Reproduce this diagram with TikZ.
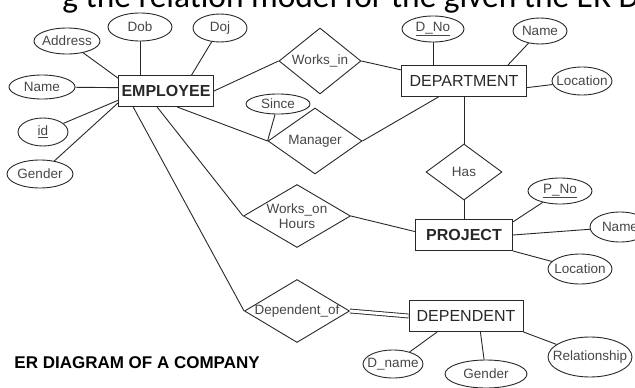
\documentclass[tikz,border=0pt]{standalone}
\usepackage{fontspec}
\setmainfont{Liberation Sans}
\newfontfamily\headfont{Carlito}
\usetikzlibrary{shapes.geometric}
\definecolor{ink1}{RGB}{40,40,40}
\definecolor{ink2}{RGB}{70,70,70}
\tikzstyle{entity} = [rectangle, draw=ink1, line width=1pt, text=ink1, font=\fontsize{16}{17}\selectfont, minimum height=31pt, inner sep=0pt]
\tikzstyle{strong} = [font=\fontsize{16}{17}\selectfont\bfseries]
\tikzstyle{relation} = [diamond, draw=ink1, text=ink2, font=\fontsize{13.5}{15}\selectfont, inner sep=0pt]
\tikzstyle{attrib} = [ellipse, draw=ink1, text=ink2, font=\fontsize{13.5}{15}\selectfont, inner sep=0pt]
% keep the text out of the shape size
\newcommand{\lbl}[1]{\makebox[0pt]{#1}}

\begin{document}
\begin{tikzpicture}[x=1pt, y=-1pt, node distance=63pt, color=ink1, line width=0.9pt]
	\useasboundingbox (0,0) rectangle (635,388);
	\clip (0,0) rectangle (635,388);
	% Heading, cut by the top edge
	\node [anchor=base west, inner sep=0pt, text=black, font=\headfont\fontsize{33.4}{35}\selectfont] (T01) at (62,8) {g the relation model for the given the ER D};

	% Entities
	\node [entity, strong, minimum width=95pt] (E01) at (166,91) {EMPLOYEE};
	\node [entity, minimum width=125pt] (E02) at (464,81) {DEPARTMENT};
	\node [relation, minimum width=76pt, minimum height=56pt, below of=E02, node distance=91pt] (R03) {\lbl{Has}};
	\node [entity, strong, minimum width=97pt, below of=R03] (E03) {PROJECT};
	\node [entity, minimum width=114pt] (E04) at (466,316) {DEPENDENT};

	% Relationships
	\node [relation, minimum width=82pt, minimum height=66pt] (R01) at (320,61) {\lbl{Works\_in}};
	\node [relation, minimum width=94pt, minimum height=66pt] (R02) at (315,141) {\lbl{Manager}};
	\node [relation, minimum width=107pt, minimum height=63pt] (R04) at (297,216) {\lbl{\shortstack{Works\_on\\Hours}}};
	\node [relation, minimum width=105pt, minimum height=63pt] (R05) at (297,311) {\lbl{Dependent\_of}};

	% Attributes
	\node [attrib, minimum width=66pt, minimum height=26pt] (A01) at (67,41) {\lbl{Address}};
	\node [attrib, minimum width=64pt, minimum height=28pt] (A02) at (140,27) {\lbl{Dob}};
	\node [attrib, minimum width=54pt, minimum height=28pt] (A03) at (220,28) {\lbl{Doj}};
	\node [attrib, minimum width=66pt, minimum height=24pt] (A04) at (42,87) {\lbl{Name}};
	\node [attrib, minimum width=50pt, minimum height=28pt] (A05) at (43,132) {\lbl{\underline{id}}};
	\node [attrib, minimum width=66pt, minimum height=28pt] (A06) at (40,174) {\lbl{Gender}};
	\node [attrib, minimum width=64pt, minimum height=20pt] (A07) at (278,104) {\lbl{Since}};
	\node [attrib, minimum width=62pt, minimum height=26pt] (A08) at (433,29) {\lbl{\underline{D\_No}}};
	\node [attrib, minimum width=54pt, minimum height=26pt] (A09) at (540,31) {\lbl{Name}};
	\node [attrib, minimum width=60pt, minimum height=28pt] (A10) at (582,81) {\lbl{Location}};
	\node [attrib, minimum width=64pt, minimum height=26pt] (A11) at (560,191) {\lbl{\underline{P\_No}}};
	\node [attrib, minimum width=60pt, minimum height=30pt] (A12) at (620,227) {\lbl{Name}};
	\node [attrib, minimum width=64pt, minimum height=30pt] (A13) at (580,269) {\lbl{Location}};
	\node [attrib, minimum width=60pt, minimum height=28pt] (A14) at (393,364) {\lbl{D\_name}};
	\node [attrib, minimum width=82pt, minimum height=28pt] (A15) at (486,374) {\lbl{Gender}};
	\node [attrib, minimum width=84pt, minimum height=40pt] (A16) at (590,357) {\lbl{Relationship}};

	\node [anchor=west, inner sep=0pt, text=black, font=\fontsize{17}{18}\selectfont\bfseries] (C01) at (14,363) {ER DIAGRAM OF A COMPANY};

	% EMPLOYEE
	\draw [] (A01) to (E01.165);
	\draw [] (A02) to (A02 |- E01.north);
	\draw [] (A03) to (E01.32);
	\draw [] (A04) to (E01.176);
	\draw [] (A05) to (E01.191);
	\draw [] (A06) to (E01.194);
	\draw [] (E01.east) to (R01.west);
	\draw [] (E01.-55) to (R02.west);
	\draw [] (E01.241) to (R04.west);
	\draw [] (E01.206) to (R05.west);
	\draw [] (A07) to (R02.west);

	% DEPARTMENT
	\draw [] (R01.east) to (E02.170);
	\draw [] (R02.east) to (E02.212);
	\draw [] (A08) to (A08 |- E02.north);
	\draw [] (A09) to (E02.20);
	\draw [] (A10) to (E02.-6);
	\draw [] (E02.south) to (R03.north);

	% PROJECT
	\draw [] (R03.south) to (E03.north);
	\draw [] (R04.east) to (E03.176);
	\draw [] (A11) to (E03.15);
	\draw [] (A12) to (E03.east);
	\draw [] (A13) to (E03.south east);

	% DEPENDENT
	\draw [double, double distance=3pt] (R05.east) to (E04.west);
	\draw [] (A14) to (E04.209);
	\draw [] (A15) to (E04.-48);
	\draw [] (A16) to (E04.south east);
\end{tikzpicture}
\end{document}
